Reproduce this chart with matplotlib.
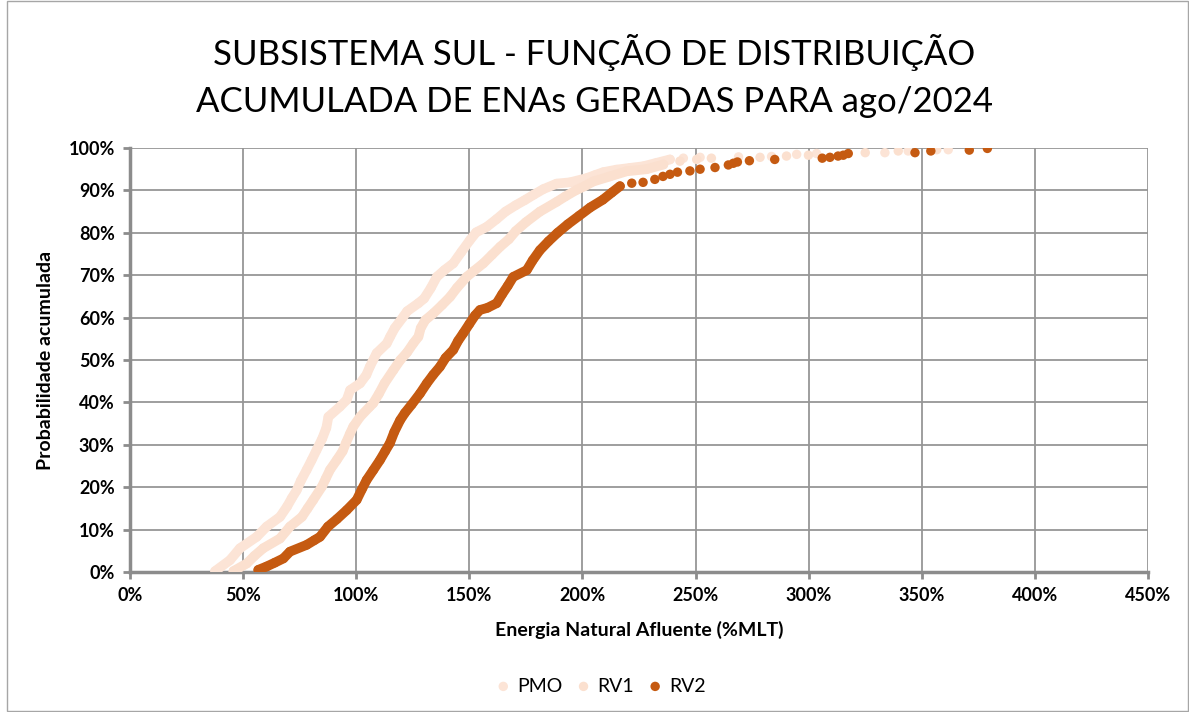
import matplotlib
matplotlib.use("Agg")
import matplotlib.pyplot as plt
from matplotlib.patches import Rectangle
from matplotlib.ticker import FuncFormatter, MultipleLocator

# Data: ENA (%MLT) vs cumulative probability (%)
pmo_prob = [0.2, 2.8, 5.6, 8.3, 10.7, 13.0, 15.5, 17.4, 19.3, 21.5, 24.1, 26.4, 28.8, 31.5,
            34.0, 36.6, 39.0, 40.6, 42.9, 44.5, 46.5, 48.4, 50.0, 51.6, 53.9, 55.5, 57.5,
            60.2, 61.5, 63.4, 64.5, 67.0, 69.6, 71.2, 72.8, 75.5, 78.3, 80.1, 81.4, 83.2,
            85.0, 86.5, 87.7, 89.0, 90.3, 91.6, 91.9, 92.9, 93.6, 94.3, 94.9, 95.3, 95.7,
            96.5, 97.3, 97.6, 97.8, 97.9, 98.0, 98.5, 98.7, 98.9, 99.3, 99.6]
pmo_ena = [37.6, 44.2, 48.6, 56.0, 60.4, 66.3, 69.5, 71.5, 73.7, 75.5, 78.1, 80.3, 82.5, 85.0,
           86.8, 87.7, 92.8, 95.8, 97.3, 101.7, 104.5, 106.0, 107.5, 109.0, 113.5, 115.0, 117.0,
           120.8, 122.5, 127.5, 130.0, 133.0, 135.6, 139.0, 142.9, 146.5, 150.3, 153.0, 157.7, 162.0,
           166.0, 170.5, 174.5, 178.5, 182.7, 188.6, 194.5, 201.9, 205.5, 209.2, 215.1, 221.0, 227.0,
           232.8, 238.7, 244.6, 252.0, 269.0, 283.6, 294.7, 303.5, 333.7, 344.0, 361.7]

rv1_prob = [0.2, 2.0, 3.8, 5.6, 7.9, 10.7, 13.0, 15.0, 17.0, 20.1, 22.0, 24.1, 26.4, 28.5,
            30.5, 32.7, 34.3, 36.6, 39.0, 39.8, 42.0, 44.5, 47.6, 50.0, 51.8, 53.9, 55.5,
            57.5, 59.4, 61.0, 63.0, 64.9, 67.0, 69.6, 71.0, 72.8, 74.8, 76.7, 78.5, 80.4,
            82.5, 85.0, 87.3, 88.6, 90.0, 91.0, 92.1, 93.3, 94.5, 95.0, 96.1, 96.9, 97.3,
            97.6, 97.8, 98.1, 98.3, 98.9, 99.3, 99.6]
rv1_ena = [45.7, 51.6, 55.0, 58.9, 66.3, 70.7, 76.0, 78.5, 81.0, 84.8, 86.5, 88.4, 91.4, 94.0,
           95.5, 97.3, 98.7, 101.7, 106.0, 107.5, 110.0, 112.5, 116.4, 119.5, 122.5, 125.2, 127.5,
           128.5, 130.5, 134.1, 138.0, 141.5, 144.5, 148.8, 152.0, 156.2, 160.0, 163.6, 167.5, 170.5,
           175.0, 181.2, 188.6, 192.5, 197.0, 201.0, 204.8, 212.2, 219.5, 228.4, 235.8, 243.1, 250.5,
           257.0, 278.5, 290.2, 299.9, 325.0, 339.6, 356.6]

rv2_prob = [0.5, 1.3, 2.2, 3.2, 4.8, 6.4, 7.5, 8.3, 10.7, 12.5, 14.6, 17.0, 19.5, 21.7, 24.0,
            26.4, 28.5, 30.4, 33.0, 35.8, 37.5, 39.5, 42.1, 44.5, 46.5, 48.4, 50.5, 52.4, 54.5,
            56.3, 58.5, 60.5, 61.8, 62.3, 63.4, 65.5, 67.5, 69.6, 71.2, 73.5, 75.9, 78.0, 80.0,
            82.0, 84.0, 86.0, 87.8, 89.5, 91.0, 91.7, 91.9, 92.6, 93.3, 93.8, 94.3, 94.6, 95.0,
            95.4, 96.0, 96.4, 96.7, 97.0, 97.3, 97.6, 97.8, 98.1, 98.3, 98.7, 98.9, 99.3, 99.5, 99.9]
rv2_ena = [56.7, 60.4, 64.0, 67.8, 70.7, 78.1, 81.5, 84.0, 87.5, 91.5, 95.8, 100.2, 102.5, 104.6, 107.5,
           110.5, 112.8, 114.9, 116.8, 119.4, 121.5, 124.5, 128.2, 131.2, 134.0, 137.0, 139.5, 142.9, 145.0,
           147.3, 150.0, 152.5, 154.7, 158.0, 162.1, 164.5, 167.0, 169.4, 175.4, 178.0, 181.2, 185.0, 189.0,
           193.5, 198.5, 203.5, 209.0, 213.0, 216.6, 221.8, 226.8, 232.0, 235.6, 238.7, 242.0, 247.5, 252.0,
           258.6, 264.5, 266.7, 268.5, 273.8, 285.0, 306.0, 309.4, 313.0, 315.3, 317.5, 347.0, 354.0, 371.0, 379.0]

# name, x values, probabilities, colour, probability up to which the dots merge into a band
series = [("PMO", pmo_ena, pmo_prob, "#FCE4D6", 97.3),
          ("RV1", rv1_ena, rv1_prob, "#FBE0CF", 96.1),
          ("RV2", rv2_ena, rv2_prob, "#C55A11", 91.0)]

plt.rcParams['font.family'] = ['Lato', 'DejaVu Sans']

fig = plt.figure(figsize=(11.89, 7.12), dpi=100)
ax = fig.add_axes([130/1189, 1-572/712, (1148-130)/1189, (572-148)/712])

# outer chart border
fig.patches.append(Rectangle((7/1189, 0.001), 1-7/1189-0.001, 0.998, transform=fig.transFigure,
                             fill=False, edgecolor="#a6a6a6", lw=1.0))

for name, ena, prob, color, band_top in series:
    dense = [i for i, p in enumerate(prob) if p <= band_top]
    ax.plot([ena[i] for i in dense], [prob[i] for i in dense], color=color, lw=7,
            solid_capstyle='round', solid_joinstyle='round', zorder=3)
    ax.scatter(ena, prob, s=46, color=color, edgecolors='none', label=name, zorder=3)

ax.set_xlim(0, 450)
ax.set_ylim(0, 100)
ax.xaxis.set_major_locator(MultipleLocator(50))
ax.yaxis.set_major_locator(MultipleLocator(10))
ax.xaxis.set_major_formatter(FuncFormatter(lambda v, _: f"{v:.0f}%"))
ax.yaxis.set_major_formatter(FuncFormatter(lambda v, _: f"{v:.0f}%"))
ax.grid(True, color="#969696", lw=1.3, zorder=0)
ax.set_axisbelow(True)
for s in ["top", "right"]:
    ax.spines[s].set_visible(False)
for s in ["left", "bottom"]:
    ax.spines[s].set_color("#8c8c8c")
    ax.spines[s].set_linewidth(2.5)
ax.tick_params(axis='both', direction='out', length=5, width=2, color="#8c8c8c",
               labelsize=13, pad=6)
for lbl in ax.get_xticklabels() + ax.get_yticklabels():
    lbl.set_fontweight('bold')

ax.set_xlabel("Energia Natural Afluente (%MLT)", fontsize=14, fontweight='bold', labelpad=12)
ax.set_ylabel("Probabilidade acumulada", fontsize=14, fontweight='bold', labelpad=10)

fig.text(0.5, 1-76/712, "SUBSISTEMA SUL - FUNÇÃO DE DISTRIBUIÇÃO\nACUMULADA DE ENAs GERADAS PARA ago/2024",
         ha='center', va='center', fontsize=25, linespacing=1.55)

fig.legend(loc='center', bbox_to_anchor=(0.505, 1-686/712), ncol=3, frameon=False,
           fontsize=14, handlelength=0.8, handletextpad=0.3, columnspacing=0.7)

fig.savefig("out.png", dpi=100)
